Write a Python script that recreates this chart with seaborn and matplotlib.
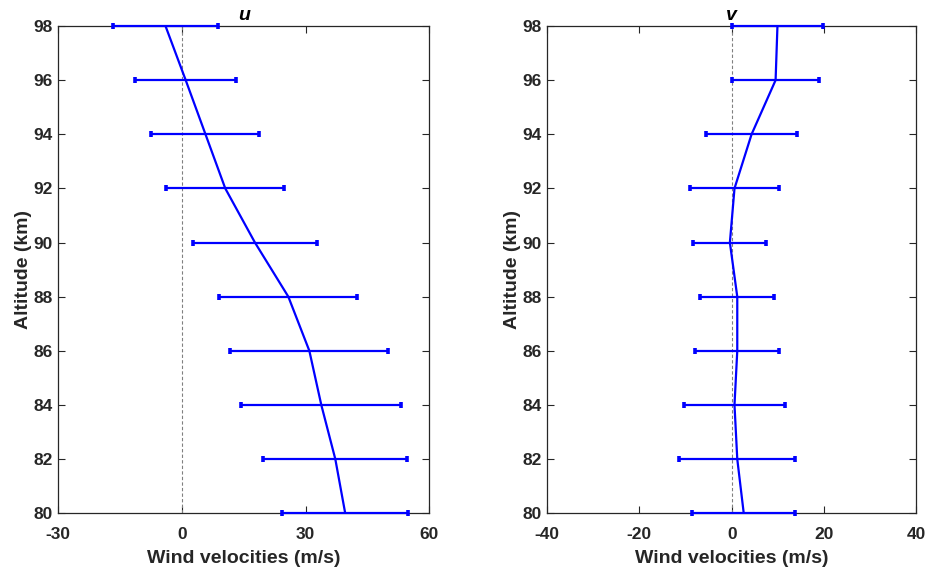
import numpy as np
import pandas as pd
import matplotlib
matplotlib.use("Agg")
import matplotlib.pyplot as plt
import seaborn as sns

altitude = [80, 82, 84, 86, 88, 90, 92, 94, 96, 98]
u_mean = [39.6, 37.2, 33.8, 30.9, 25.8, 17.7, 10.5, 5.7, 0.9, -4.0]
u_err = [15.3, 17.5, 19.4, 19.2, 16.7, 15.0, 14.3, 13.1, 12.2, 12.7]
v_mean = [2.6, 1.2, 0.6, 1.2, 1.2, -0.4, 0.6, 4.3, 9.5, 9.9]
v_err = [11.2, 12.6, 10.9, 9.1, 8.0, 7.9, 9.6, 9.8, 9.4, 9.9]

panels = [
    ("u", u_mean, u_err, (-30, 60), [-30, 0, 30, 60]),
    ("v", v_mean, v_err, (-40, 40), [-40, -20, 0, 20, 40]),
]

sns.set_style("ticks")
plt.rcParams["font.family"] = ["Liberation Sans", "DejaVu Sans"]
plt.rcParams["font.weight"] = "bold"
plt.rcParams["axes.unicode_minus"] = False

fig = plt.figure(figsize=(9.26, 5.69), dpi=100)
positions = [[0.063, 0.098, 0.4006, 0.8563], [0.5907, 0.098, 0.399, 0.8563]]
dark = "#262626"

for (name, mean, err, xlim, xt), pos in zip(panels, positions):
    ax = fig.add_axes(pos)
    df = pd.DataFrame({"alt": altitude, "w": mean})
    ax.axvline(0, color="#808080", lw=0.8, ls=(0, (3, 2)), zorder=1)
    sns.lineplot(data=df, x="w", y="alt", sort=False, orient="y",
                 color="#0000ff", lw=1.6, ax=ax, zorder=3)
    ax.errorbar(mean, altitude, xerr=err, fmt="none", ecolor="#0000ff",
                elinewidth=1.6, capsize=2.2, capthick=2.6, clip_on=False, zorder=3)
    ax.set_xlim(*xlim)
    ax.set_ylim(80, 98)
    ax.set_xticks(xt)
    ax.set_yticks(np.arange(80, 99, 2))
    ax.tick_params(direction="in", top=True, right=True, length=5,
                   width=0.8, colors=dark, labelsize=12.5)
    ax.tick_params(axis="x", pad=10)
    ax.tick_params(axis="y", pad=4)
    for lab in ax.get_xticklabels() + ax.get_yticklabels():
        lab.set_fontweight("bold")
    for s in ax.spines.values():
        s.set_visible(True)
        s.set_color(dark)
        s.set_linewidth(0.9)
    ax.set_xlabel("Wind velocities (m/s)", fontsize=14, fontweight="bold",
                  color=dark, labelpad=6)
    ax.set_ylabel("Altitude (km)", fontsize=14, fontweight="bold",
                  color=dark, labelpad=1)
    ax.set_title(name, fontsize=14, fontweight="bold", style="italic",
                 color="black", pad=4)

fig.savefig("out.png", dpi=100)
